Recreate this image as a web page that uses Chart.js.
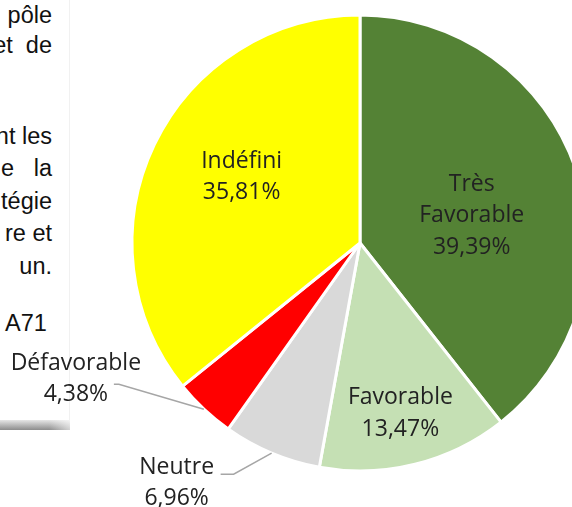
<!DOCTYPE html>
<html>
<head>
<meta charset="utf-8">
<script src="https://cdn.jsdelivr.net/npm/chart.js"></script>
<style>
    html, body { margin: 0; padding: 0; background: #fff; }
    #page { position: relative; width: 572px; height: 507px; overflow: hidden; }
    #page canvas { position: absolute; left: 0; top: 0; z-index: 2; }
    .txt { position: absolute; font-family: "Liberation Sans", Arial, sans-serif; font-size: 23.5px;
           line-height: 30px; color: #111; white-space: nowrap; z-index: 1; }
    .r { right: 520px; }
    #edge { position: absolute; left: 69px; top: 0; width: 1px; height: 420px; background: #f1f1f1; }
    #shadow { position: absolute; left: 0; top: 420px; width: 70px; height: 10px;
              background: linear-gradient(to bottom, #e6e6e6, #8c8c8c); }
    #shadow:after { content: ""; position: absolute; left: 0; top: 0; width: 100%; height: 100%;
              background: linear-gradient(to right, rgba(255,255,255,0) 70%, rgba(255,255,255,0.6)); }
</style>
</head>
<body>
<div id="page">
    <div id="edge"></div>
    <div id="shadow"></div>
    <div class="txt r" style="top:0px">pôle</div>
    <div class="txt r" style="top:30px">et&nbsp; de</div>
    <div class="txt r" style="top:121px">nt les</div>
    <div class="txt r" style="top:153px">e&nbsp;&nbsp; la</div>
    <div class="txt r" style="top:186px">tégie</div>
    <div class="txt r" style="top:218px">re et</div>
    <div class="txt r" style="top:251px">un.</div>
    <div class="txt" style="top:308px; left:5px">A71</div>
    <canvas id="pie-chart" width="620" height="507"></canvas>
</div>
<script>
// avis, en % des réponses
var categories = [["Très", "Favorable"], "Favorable", "Neutre", "Défavorable", "Indéfini"];
var percentages = [39.39, 13.47, 6.96, 4.38, 35.81];
var sliceColors = ["#548235", "#c5e0b4", "#d9d9d9", "#ff0000", "#ffff00"];

// where each label goes: inside (r = fraction of radius) or outside with a leader line
var labelPlacement = [
    { r: 0.5, dx: 4, dy: 10 },
    { r: 0.77, dx: -2, dy: 0 },
    { outside: true, dx: -95, dy: 30, lineEnd: [44, -9], knee: 13 },
    { outside: true, dx: -128, dy: -30, lineEnd: [38, 5], knee: 5 },
    { r: 0.59, dx: 3, dy: -8 }
];

var sliceLabels = {
    id: "sliceLabels",
    afterDatasetsDraw: function (chart) {
        var ctx = chart.ctx;
        var meta = chart.getDatasetMeta(0);
        var values = chart.data.datasets[0].data;
        ctx.save();
        ctx.font = "23px 'Open Sans'";
        ctx.fillStyle = "#222222";
        ctx.textAlign = "center";
        ctx.textBaseline = "middle";
        meta.data.forEach(function (arc, i) {
            var p = arc.getProps(["x", "y", "startAngle", "endAngle", "outerRadius"], true);
            var mid = (p.startAngle + p.endAngle) / 2;
            var place = labelPlacement[i];
            var lines = [].concat(chart.data.labels[i]);
            lines.push(values[i].toFixed(2).replace(".", ",") + "%");
            var cx, cy;
            if (place.outside) {
                var ex = p.x + Math.cos(mid) * p.outerRadius;
                var ey = p.y + Math.sin(mid) * p.outerRadius;
                cx = ex + place.dx;
                cy = ey + place.dy;
                var endX = cx + place.lineEnd[0];
                var endY = cy + place.lineEnd[1];
                ctx.strokeStyle = "#a6a6a6";
                ctx.lineWidth = 1.5;
                ctx.beginPath();
                ctx.moveTo(ex, ey);
                ctx.lineTo(endX + place.knee, endY);
                ctx.lineTo(endX, endY);
                ctx.stroke();
            } else {
                cx = p.x + Math.cos(mid) * p.outerRadius * place.r + place.dx;
                cy = p.y + Math.sin(mid) * p.outerRadius * place.r + place.dy;
            }
            var lh = 31.5;
            var top = cy - (lines.length - 1) * lh / 2;
            lines.forEach(function (line, k) {
                ctx.fillText(line, cx, top + k * lh);
            });
        });
        ctx.restore();
    }
};

new Chart("pie-chart", {
    type: "pie",
    data: {
        labels: categories,
        datasets: [{
            data: percentages,
            backgroundColor: sliceColors,
            borderColor: "#ffffff",
            borderWidth: 3
        }]
    },
    options: {
        responsive: false,
        animation: false,
        layout: {
            padding: { left: 130.5, right: 30.5, top: 13.5, bottom: 34.5 }
        },
        plugins: {
            legend: { display: false },
            tooltip: { enabled: false }
        }
    },
    plugins: [sliceLabels]
});
</script>
</body>
</html>
